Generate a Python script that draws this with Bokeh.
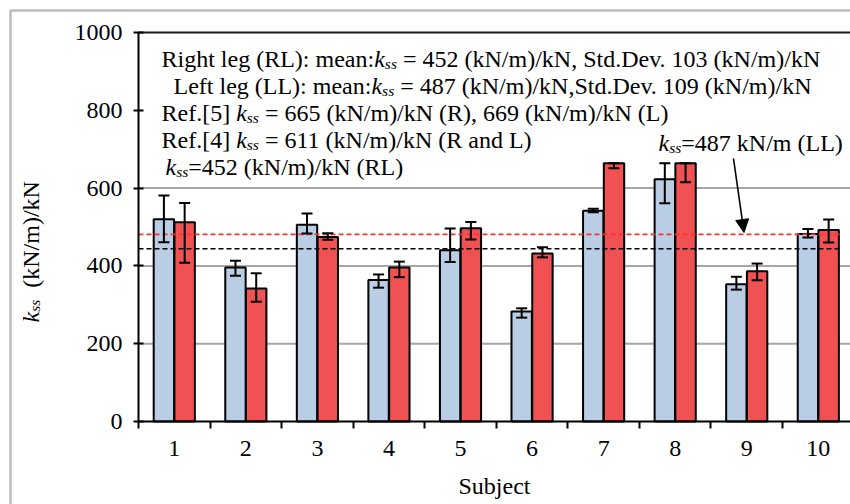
import math
from bokeh.plotting import figure
from bokeh.models import (Range1d, FixedTicker, Whisker, ColumnDataSource, Label,
                          Arrow, NormalHead, BoxAnnotation, TeeHead)
from bokeh.embed import file_html
from bokeh.resources import INLINE

# ---------------- data ----------------
subjects = [1, 2, 3, 4, 5, 6, 7, 8, 9, 10]
tick_labels = ["1", "2", "3", "4", "5", "6", "7", "8", "9", "10"]
rl_values = [520, 396, 506, 364, 440, 283, 542, 623, 353, 482]
rl_err_up = [61, 17, 29, 14, 56, 8, 5, 41, 19, 13]
rl_err_down = [59, 21, 23, 20, 30, 16, 4, 62, 14, 9]
ll_values = [512, 342, 474, 396, 497, 432, 664, 664, 386, 492]
ll_err_up = [50, 39, 10, 15, 16, 16, 0, 0, 20, 27]
ll_err_down = [104, 34, 7, 25, 29, 10, 13, 49, 23, 32]
ll_mean_line = 481
rl_mean_line = 444
y_ticks = [0, 200, 400, 600, 800, 1000]
grid_ticks = [200, 400, 600]
top_line = [1000]

BLUE = "#b9cde5"
RED = "#f05254"
FONT = "Liberation Serif"
FS = 24
TFS = 24

# ---------------- frame geometry (pixel layout of the reference) ----------------
W, H = 850, 504
FL, FT, FB = 138, 32, 421
X0, X1 = 0.5, 10.45
PXX = (W - FL) / (X1 - X0)
PXY = (FB - FT) / 1000.0


def xd(px):
    return X0 + (px - FL) / PXX


def yd(py):
    return (FB - py) / PXY


p = figure(width=W, height=H, x_range=Range1d(xd(0), xd(W)), y_range=Range1d(yd(H), yd(0)),
           output_backend="svg", toolbar_location=None,
           min_border_left=0, min_border_right=0, min_border_top=0, min_border_bottom=0)
p.outline_line_color = None
p.background_fill_color = "white"
p.border_fill_color = "white"
p.grid.visible = False

# axes placed inside the full-canvas frame
p.yaxis.fixed_location = X0
p.yaxis.bounds = (0, 1000)
p.yaxis.ticker = FixedTicker(ticks=y_ticks)
p.yaxis.axis_line_color = "black"
p.yaxis.axis_line_width = 2
p.yaxis.major_tick_in = 5
p.yaxis.major_tick_out = 5
p.yaxis.major_tick_line_width = 2
p.yaxis.minor_tick_line_color = None
p.yaxis.major_label_standoff = 11
p.yaxis.major_label_text_font = FONT
p.yaxis.major_label_text_font_size = f"{TFS}px"
p.yaxis.major_label_text_color = "black"

bounds = [s - 0.5 for s in subjects] + [subjects[-1] + 0.5]
p.xaxis.fixed_location = 0
p.xaxis.bounds = (X0, xd(W + 5))
p.xaxis.ticker = FixedTicker(ticks=subjects, minor_ticks=bounds)
p.xaxis.major_label_overrides = {s: t for s, t in zip(subjects, tick_labels)}
p.xaxis.axis_line_color = "black"
p.xaxis.axis_line_width = 2
p.xaxis.major_tick_in = 0
p.xaxis.major_tick_out = 0
p.xaxis.minor_tick_in = 0
p.xaxis.minor_tick_out = 7
p.xaxis.minor_tick_line_width = 2
p.xaxis.minor_tick_line_color = "black"
p.xaxis.major_label_standoff = 12
p.xaxis.major_label_text_font = FONT
p.xaxis.major_label_text_font_size = f"{TFS}px"
p.xaxis.major_label_text_color = "black"

# horizontal grid lines (only between axis and right edge)
x_right = xd(W + 5)
p.segment(x0=[X0] * len(grid_ticks), x1=[x_right] * len(grid_ticks), y0=grid_ticks,
          y1=grid_ticks, line_color="#a6a6a6", line_width=2)
p.segment(x0=[X0], x1=[x_right], y0=top_line, y1=top_line, line_color="#1a1a1a", line_width=2)

# bars
BW = 0.285
OFF = 0.145
rl_x = [s - OFF for s in subjects]
ll_x = [s + OFF for s in subjects]
rl_src = ColumnDataSource(dict(x=rl_x, top=rl_values,
                               upper=[v + e for v, e in zip(rl_values, rl_err_up)],
                               lower=[v - e for v, e in zip(rl_values, rl_err_down)]))
ll_src = ColumnDataSource(dict(x=ll_x, top=ll_values,
                               upper=[v + e for v, e in zip(ll_values, ll_err_up)],
                               lower=[v - e for v, e in zip(ll_values, ll_err_down)]))
p.vbar(x="x", top="top", bottom=0, width=BW, source=rl_src, fill_color=BLUE,
       line_color="black", line_width=2)
p.vbar(x="x", top="top", bottom=0, width=BW, source=ll_src, fill_color=RED,
       line_color="black", line_width=2)

for src in (rl_src, ll_src):
    w = Whisker(source=src, base="x", upper="upper", lower="lower", dimension="height",
                line_color="black", line_width=2, level="annotation",
                upper_head=TeeHead(size=11, line_width=2, line_color="black"),
                lower_head=TeeHead(size=11, line_width=2, line_color="black"))
    p.add_layout(w)

# mean lines
p.segment(x0=[X0, X0], x1=[xd(842), xd(842)], y0=[ll_mean_line, rl_mean_line],
          y1=[ll_mean_line, rl_mean_line], line_color=["#ff3030", "black"],
          line_width=1.6, line_dash="5 3")

# ---------------- rich text ----------------
TW = {' ': 250, '!': 333, '(': 333, ')': 333, ',': 250, '-': 333, '.': 250, '/': 278,
      ':': 278, '=': 564, '[': 333, ']': 333,
      'a': 444, 'b': 500, 'c': 444, 'd': 500, 'e': 444, 'f': 333, 'g': 500, 'h': 500,
      'i': 278, 'j': 278, 'k': 500, 'l': 278, 'm': 778, 'n': 500, 'o': 500, 'p': 500,
      'q': 500, 'r': 333, 's': 389, 't': 278, 'u': 500, 'v': 500, 'w': 722, 'x': 500,
      'y': 500, 'z': 444,
      'A': 722, 'B': 667, 'C': 667, 'D': 722, 'E': 611, 'F': 556, 'G': 722, 'H': 722,
      'I': 333, 'J': 389, 'K': 722, 'L': 611, 'M': 889, 'N': 722, 'O': 722, 'P': 556,
      'Q': 722, 'R': 667, 'S': 556, 'T': 611, 'U': 722, 'V': 722, 'W': 944, 'X': 722,
      'Y': 722, 'Z': 611}
TWI = {'k': 444, 's': 389}
SUB = 0.65


def width(text, size, italic=False):
    tab = TWI if italic else TW
    return sum(tab.get(c, TW.get(c, 500)) for c in text) * size / 1000.0


def parts_iter(parts, size):
    """Yield (text, font size, italic, baseline drop, advance-before, width) per segment."""
    for text, style in parts:
        fs = size * SUB if style == "sub" else size
        it = style in ("it", "sub")
        drop = 5 if style == "sub" else 0
        stripped = text.lstrip(" ")
        lead = width(text[:len(text) - len(stripped)], fs, it)
        yield stripped, fs, it, drop, lead, width(stripped, fs, it)


def rich_line(x_px, base_px, parts, size=FS):
    cur = x_px
    for text, fs, it, drop, lead, wdt in parts_iter(parts, size):
        cur += lead
        p.add_layout(Label(x=xd(cur), y=yd(base_px + drop), text=text, text_font=FONT,
                           text_font_size=f"{fs:.1f}px",
                           text_font_style="italic" if it else "normal",
                           text_baseline="alphabetic", text_align="left",
                           text_color="black"))
        cur += wdt


K = [("k", "it"), ("ss", "sub")]
rich_line(161, 58, [("Right leg (RL): mean:", "n")] + K +
          [(" = 452 (kN/m)/kN, Std.Dev. 103 (kN/m)/kN", "n")])
rich_line(173, 85, [("Left leg (LL): mean:", "n")] + K +
          [(" = 487 (kN/m)/kN,Std.Dev. 109  (kN/m)/kN", "n")])
rich_line(161, 112, [("Ref.[5] ", "n")] + K +
          [(" = 665 (kN/m)/kN (R), 669 (kN/m)/kN (L)", "n")])
rich_line(161, 139, [("Ref.[4] ", "n")] + K + [(" = 611 (kN/m)/kN (R and L)", "n")])
rich_line(165, 166, K + [("=452 (kN/m)/kN (RL)", "n")])
rich_line(658, 142, K + [("=487 kN/m (LL)", "n")])

# arrow
p.add_layout(Arrow(end=NormalHead(size=13, fill_color="black", line_color="black"),
                   x_start=xd(733), y_start=yd(158), x_end=xd(743.5), y_end=yd(232),
                   line_color="black", line_width=1.6))

# y axis title (rotated, reading upwards)
ybase_x = 30
cur = 322
for text, fs, it, drop, lead, wdt in parts_iter(K + [("  (kN/m)/kN", "n")], TFS):
    cur -= lead
    p.add_layout(Label(x=xd(ybase_x + (4 if drop else 0)), y=yd(cur), text=text,
                       angle=math.pi / 2, text_font=FONT, text_font_size=f"{fs:.1f}px",
                       text_font_style="italic" if it else "normal",
                       text_baseline="alphabetic", text_align="left", text_color="black"))
    cur -= wdt

# x axis title
p.add_layout(Label(x=xd(494), y=yd(485), text="Subject", text_font=FONT,
                   text_font_size=f"{TFS}px", text_baseline="alphabetic", text_align="center",
                   text_color="black"))

# outer border of the picture
p.add_layout(BoxAnnotation(left=xd(10), right=xd(W + 40), top=yd(10), bottom=yd(H + 40),
                           fill_color=None, line_color="#222222", line_width=2.5,
                           level="overlay"))

open("out.html", "w").write(file_html(p, INLINE))
